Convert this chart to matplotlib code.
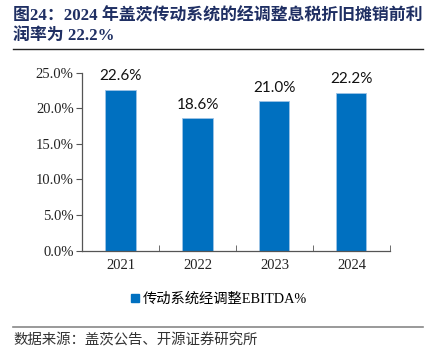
import matplotlib
matplotlib.use("Agg")
import matplotlib.pyplot as plt
from matplotlib.lines import Line2D
from matplotlib.ticker import FuncFormatter

years = ["2021", "2022", "2023", "2024"]
ebitda_pct = [22.6, 18.6, 21.0, 22.2]
yticks = [0, 5, 10, 15, 20, 25]

title_line1 = "图24：2024 年盖茨传动系统的经调整息税折旧摊销前利"
title_line2 = "润率为 22.2%"
legend_label = "传动系统经调整EBITDA%"
source_text = "数据来源：盖茨公告、开源证券研究所"

serif_cjk = ["Liberation Serif", "Noto Sans CJK SC"]
bar_color = "#0070C0"
navy = "#1F2F63"

fig = plt.figure(figsize=(4.35, 3.55), dpi=100)
ax = fig.add_axes([0.1885, 0.294, 0.708, 0.501])

x = list(range(len(years)))
bars = ax.bar(x, ebitda_pct, width=0.39, color=bar_color, edgecolor="#9DC3E6", linewidth=0.6)
for xi, v in zip(x, ebitda_pct):
    ax.text(xi, v + 0.9, f"{v:.1f}%", ha="center", va="bottom", fontsize=11,
            family="Lato", color="#111111")

ax.set_xlim(-0.5, len(years) - 0.5)
ax.set_ylim(0, 25)
ax.set_yticks(yticks)
ax.yaxis.set_major_formatter(FuncFormatter(lambda v, p: f"{v:.1f}%"))
ax.set_xticks(x)
ax.set_xticklabels(years)
ax.set_xticks([i + 0.5 for i in x[:-1]] + [-0.5, len(years) - 0.5], minor=True)
ax.tick_params(axis="x", which="major", length=0, pad=6)
ax.tick_params(axis="x", which="minor", length=4, direction="in", color="#555555")
ax.tick_params(axis="y", length=4, direction="out", color="#555555", pad=2)
for lab in ax.get_xticklabels() + ax.get_yticklabels():
    lab.set_family("Liberation Serif")
    lab.set_fontsize(10.5)
    lab.set_color("#222222")
for s in ["top", "right"]:
    ax.spines[s].set_visible(False)
for s in ["left", "bottom"]:
    ax.spines[s].set_color("#555555")
    ax.spines[s].set_linewidth(0.9)

# legend
handle = Line2D([], [], marker="s", linestyle="none", markersize=5.5, color=bar_color)
leg = fig.legend([handle], [legend_label], loc="center", bbox_to_anchor=(0.501, 0.158),
                 frameon=False, handlelength=0.8, handletextpad=0.15,
                 prop={"family": serif_cjk, "size": 10.3})

# title
fig.text(0.03, 0.943, title_line1, fontsize=12.2, fontweight="bold", family=serif_cjk,
         color=navy, va="baseline")
fig.text(0.03, 0.887, title_line2, fontsize=12.2, fontweight="bold", family=serif_cjk,
         color=navy, va="baseline")
fig.add_artist(Line2D([0.03, 0.972], [0.862, 0.862], color="#222222", linewidth=1.0))

# source
fig.add_artist(Line2D([0.03, 0.972], [0.079, 0.079], color="#888888", linewidth=1.2))
fig.text(0.03, 0.042, source_text, fontsize=10.4, family=serif_cjk, color="#333333",
         va="center")

fig.savefig("out.png", dpi=100)
